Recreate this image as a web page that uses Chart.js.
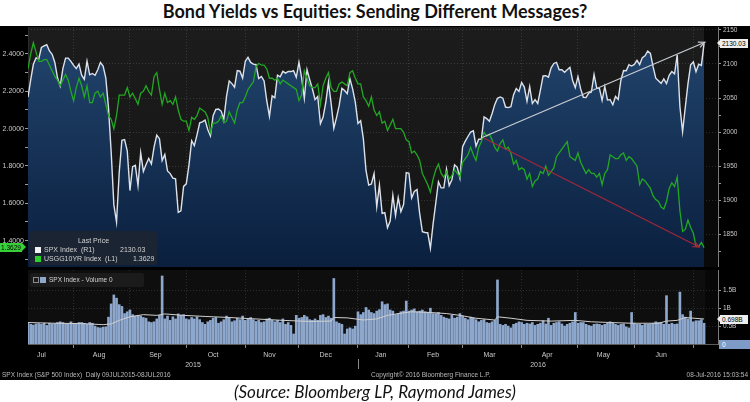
<!DOCTYPE html>
<html>
<head>
<meta charset="utf-8">
<title>Bond Yields vs Equities</title>
<script src="https://cdn.jsdelivr.net/npm/chart.js@4.4.0/dist/chart.umd.min.js"></script>
<style>
  html, body { margin: 0; padding: 0; background: #fff; }
  #wrap { position: relative; width: 750px; height: 402px; overflow: hidden; font-family: 'Liberation Sans', Arial, sans-serif; }
  #title { position: absolute; left: 0; top: 0; width: 750px; height: 26px; line-height: 27px; text-align: center; font: 700 18px Lato, sans-serif; color: #111; }
  #panel { position: absolute; left: 0; top: 26px; width: 750px; height: 354px; background: #000; }
  canvas { position: absolute; left: 0; }
  #mainChart { top: 22px; }
  #volChart { top: 268px; }
  .t { position: absolute; white-space: nowrap; font-size: 6.5px; line-height: 8px; color: #b8b8b8; }
  .lt { position: absolute; white-space: nowrap; font-size: 7px; line-height: 8px; color: #d2d2d2; }
  .sq { position: absolute; width: 6px; height: 6px; }
  #legend { position: absolute; left: 30px; top: 231px; width: 127px; height: 34px; background: rgba(30, 36, 48, 0.88); border-radius: 3px; }
  #volLegend { position: absolute; left: 30px; top: 273px; width: 114px; height: 14px; background: #1b1b1b; border-radius: 2px; }
  .tag { position: absolute; height: 9px; line-height: 9px; font-size: 6.5px; white-space: nowrap; }
  .tag.white { left: 720px; width: 26px; padding-left: 2px; background: #eeeeee; color: #000; }
  .tag.white::before { content: ''; position: absolute; left: -3px; top: 1px; border-right: 3px solid #eeeeee; border-top: 3.5px solid transparent; border-bottom: 3.5px solid transparent; }
  .tag.green { left: 0; width: 21px; padding-left: 1px; background: #38d038; color: #000; }
  .tag.green::after { content: ''; position: absolute; right: -4px; top: 0; border-left: 4px solid #38d038; border-top: 4.5px solid transparent; border-bottom: 4.5px solid transparent; }
  .tag.blue { left: 719px; width: 28px; padding-left: 3px; background: #7e9bc8; color: #fff; }
  #source { position: absolute; left: 0; top: 381px; width: 750px; height: 20px; line-height: 20px; text-align: center; font: italic 17px Lato, sans-serif; color: #111; }
</style>
</head>
<body>
<div id="wrap">
  <div id="title">Bond Yields vs Equities: Sending Different Messages?</div>
  <div id="panel"></div>
  <canvas id="mainChart" width="750" height="245"></canvas>
  <canvas id="volChart" width="750" height="112"></canvas>

  <div id="legend">
    <div class="lt" style="left:0;width:127px;text-align:center;top:6px">Last Price</div>
    <span class="sq" style="left:5px;top:16px;background:#f2f2f2"></span>
    <div class="lt" style="left:14px;top:15px">SPX Index&nbsp; (R1)</div>
    <div class="lt" id="lgSpx" style="left:90px;top:15px"></div>
    <span class="sq" style="left:5px;top:24.5px;background:#2ad12a"></span>
    <div class="lt" style="left:14px;top:23.5px">USGG10YR Index&nbsp; (L1)</div>
    <div class="lt" id="lgYield" style="left:103px;top:23.5px"></div>
  </div>

  <div id="volLegend">
    <span style="position:absolute;left:3px;top:4px;width:4px;height:4px;border:1px solid #8a8a8a"></span>
    <span class="sq" style="left:10px;top:4px;background:#8ea7cc"></span>
    <div class="lt" style="left:19px;top:3px;font-size:6.5px">SPX Index - Volume 0</div>
  </div>

  <div class="tag green" id="yieldTag"></div>
  <div class="tag white" id="spxTag"></div>
  <div class="tag white" id="avgTag"></div>
  <div class="tag blue" id="zeroTag">0</div>

  <div class="t" style="left:2px;top:371px">SPX Index (S&amp;P 500 Index)&nbsp; Daily 09JUL2015-08JUL2016</div>
  <div class="t" style="left:371px;top:371px">Copyright© 2016 Bloomberg Finance L.P.</div>
  <div class="t" style="right:2px;top:371px">08-Jul-2016 15:03:54</div>

  <div id="source">(Source: Bloomberg LP, Raymond James)</div>
</div>

<script>
// axis labels
const monthLabels = ['Jul', 'Aug', 'Sep', 'Oct', 'Nov', 'Dec', 'Jan', 'Feb', 'Mar', 'Apr', 'May', 'Jun'];
// trading-day index where each month starts (Jul 2015 begins before the data, last one is Jul 2016)
const monthStarts = [-5, 17, 38, 59, 81, 101, 123, 142, 162, 184, 205, 226, 248];
const yearLabels = ['2015', '2016'];
const yearStarts = [0, 123];
const yieldTicks = [1.4, 1.6, 1.8, 2.0, 2.2, 2.4];
const spxTicks = [1850, 1900, 1950, 2000, 2050, 2100, 2150];
const volTicks = [0.5, 1, 1.5];

// SPX Index, daily close 09JUL2015 - 08JUL2016
const spx = [
  2051.3, 2076.6, 2099.6, 2108.9, 2107.4, 2124.3, 2126.6, 2128.3, 2119.2, 2114.2, 2102.2, 2079.7, 2067.6, 2093.3, 2108.6, 2108.6, 2103.8,
  2098.0, 2093.3, 2099.8, 2083.6, 2077.6, 2104.2, 2084.1, 2086.1, 2083.4, 2091.5, 2102.4, 2096.9, 2079.6, 2035.7, 1970.9, 1893.2, 1867.6, 1940.5, 1987.7, 1988.9, 1972.2,
  1913.9, 1948.9, 1951.1, 1921.2, 1969.4, 1942.0, 1952.3, 1961.1, 1953.0, 1978.1, 1995.3, 1990.2, 1958.0, 1967.0, 1942.7, 1938.8, 1932.2, 1931.3, 1881.8, 1884.1, 1920.0,
  1923.8, 1951.4, 1987.1, 1979.9, 1995.8, 2013.4, 2014.9, 2017.5, 2003.7, 1994.2, 2023.9, 2033.1, 2033.7, 2030.8, 2018.9, 2052.5, 2075.2, 2071.2, 2065.9, 2090.4, 2089.4, 2079.4,
  2104.1, 2109.8, 2102.3, 2099.9, 2099.2, 2078.6, 2081.7, 2075.0, 2046.0, 2023.0, 2053.2, 2050.4, 2083.6, 2081.2, 2089.2, 2086.6, 2089.1, 2088.9, 2090.1, 2080.4,
  2102.6, 2079.5, 2049.6, 2091.7, 2077.1, 2063.6, 2047.6, 2052.2, 2012.4, 2021.9, 2043.4, 2073.1, 2041.9, 2005.6, 2021.2, 2039.0, 2064.3, 2061.0, 2056.5, 2078.4, 2063.4, 2043.9,
  2012.7, 2016.7, 1990.3, 1943.1, 1922.0, 1923.7, 1938.7, 1890.3, 1921.8, 1880.3, 1881.3, 1859.3, 1869.0, 1906.9, 1877.1, 1903.6, 1883.0, 1893.4, 1940.2,
  1939.4, 1903.0, 1912.5, 1915.5, 1880.1, 1853.4, 1852.2, 1851.9, 1829.1, 1864.8, 1895.6, 1926.8, 1917.8, 1917.8, 1945.5, 1921.3, 1929.8, 1951.7, 1948.1, 1932.2,
  1978.4, 1986.5, 1993.4, 2000.0, 2001.8, 1979.3, 1989.3, 1989.6, 2022.2, 2019.6, 2015.9, 2027.2, 2040.6, 2049.6, 2051.6, 2049.8, 2036.7, 2035.9, 2037.1, 2055.0, 2064.0, 2059.7,
  2072.8, 2066.1, 2045.2, 2066.7, 2041.9, 2047.6, 2042.0, 2061.7, 2082.4, 2082.8, 2080.7, 2094.3, 2100.8, 2102.4, 2091.5, 2091.6, 2087.8, 2091.7, 2095.2, 2075.8, 2065.3,
  2081.4, 2063.4, 2051.1, 2050.6, 2057.1, 2058.7, 2084.4, 2064.5, 2064.1, 2046.6, 2066.7, 2047.2, 2047.6, 2040.0, 2052.3, 2048.0, 2076.1, 2090.5, 2090.1, 2099.1, 2097.0,
  2099.3, 2105.3, 2099.1, 2109.4, 2112.1, 2119.1, 2115.5, 2096.1, 2079.1, 2075.3, 2071.5, 2078.0, 2071.2, 2083.3, 2088.9, 2085.5, 2113.3, 2037.4, 2000.5, 2036.1, 2070.8, 2098.9,
  2103.0, 2088.6, 2099.7, 2097.9, 2130.03
];

// USGG10YR Index, same days
const yield10 = [
  2.32, 2.40, 2.46, 2.41, 2.36, 2.36, 2.37, 2.37, 2.34, 2.31, 2.28, 2.26, 2.23, 2.26, 2.29, 2.26, 2.20,
  2.15, 2.22, 2.27, 2.23, 2.17, 2.23, 2.14, 2.14, 2.19, 2.20, 2.17, 2.19, 2.13, 2.07, 2.05, 2.00, 2.07, 2.18, 2.18, 2.18, 2.22,
  2.17, 2.19, 2.16, 2.13, 2.19, 2.20, 2.23, 2.20, 2.18, 2.28, 2.30, 2.21, 2.13, 2.19, 2.14, 2.15, 2.13, 2.17, 2.10, 2.05, 2.04,
  2.04, 1.99, 2.06, 2.05, 2.07, 2.11, 2.10, 2.09, 2.06, 1.98, 2.03, 2.03, 2.04, 2.07, 2.03, 2.04, 2.09, 2.06, 2.03, 2.10, 2.14, 2.14,
  2.17, 2.21, 2.23, 2.25, 2.33, 2.35, 2.34, 2.34, 2.32, 2.27, 2.27, 2.26, 2.27, 2.24, 2.26, 2.25, 2.24, 2.23, 2.22, 2.21,
  2.15, 2.18, 2.31, 2.27, 2.23, 2.22, 2.22, 2.24, 2.13, 2.23, 2.27, 2.30, 2.22, 2.20, 2.20, 2.24, 2.25, 2.24, 2.23, 2.30, 2.31, 2.27,
  2.24, 2.24, 2.17, 2.15, 2.12, 2.17, 2.10, 2.07, 2.09, 2.03, 2.04, 1.99, 2.02, 2.05, 2.00, 2.00, 2.00, 1.98, 1.94,
  1.93, 1.87, 1.88, 1.86, 1.83, 1.76, 1.73, 1.70, 1.66, 1.73, 1.78, 1.81, 1.76, 1.74, 1.77, 1.73, 1.75, 1.78, 1.76, 1.74,
  1.82, 1.84, 1.86, 1.90, 1.86, 1.83, 1.90, 1.93, 1.98, 1.96, 1.97, 1.94, 1.90, 1.88, 1.92, 1.94, 1.89, 1.90, 1.87, 1.81, 1.83, 1.78,
  1.79, 1.78, 1.73, 1.76, 1.69, 1.72, 1.73, 1.77, 1.76, 1.80, 1.75, 1.77, 1.79, 1.85, 1.87, 1.89, 1.91, 1.93, 1.85, 1.84, 1.83,
  1.87, 1.82, 1.79, 1.76, 1.78, 1.76, 1.76, 1.74, 1.76, 1.70, 1.76, 1.78, 1.86, 1.85, 1.84, 1.84, 1.86, 1.87, 1.83, 1.85, 1.84,
  1.82, 1.80, 1.70, 1.73, 1.72, 1.70, 1.68, 1.64, 1.62, 1.61, 1.58, 1.57, 1.61, 1.68, 1.71, 1.69, 1.74, 1.56, 1.45, 1.46, 1.51, 1.47,
  1.44, 1.37, 1.37, 1.39, 1.3629
];

// SPX volume, billions of shares
const volume = [
  0.60, 0.55, 0.53, 0.56, 0.57, 0.55, 0.58, 0.52, 0.58, 0.56, 0.57, 0.60, 0.62, 0.60, 0.57, 0.56, 0.62,
  0.58, 0.57, 0.60, 0.60, 0.58, 0.55, 0.60, 0.58, 0.50, 0.46, 0.45, 0.47, 0.48, 0.75, 1.12, 1.37, 1.28, 1.10, 1.05, 0.85, 0.90,
  0.95, 0.82, 0.78, 0.80, 0.78, 0.74, 0.72, 0.62, 0.60, 0.62, 0.70, 0.80, 1.90, 0.70, 0.78, 0.66, 0.76, 0.70, 0.84, 0.80, 0.82,
  0.70, 0.68, 0.74, 0.70, 0.76, 0.68, 0.60, 0.55, 0.62, 0.66, 0.72, 0.74, 0.58, 0.62, 0.68, 0.78, 0.74, 0.62, 0.65, 0.72, 0.68, 0.78,
  0.66, 0.70, 0.74, 0.68, 0.63, 0.66, 0.60, 0.62, 0.70, 0.72, 0.66, 0.62, 0.66, 0.60, 0.70, 0.55, 0.60, 0.52, 0.28, 0.80,
  0.72, 0.74, 0.80, 0.76, 0.68, 0.66, 0.70, 0.66, 0.80, 0.82, 0.74, 0.78, 0.72, 1.83, 0.62, 0.58, 0.55, 0.28, 0.42, 0.45, 0.42, 0.50,
  0.90, 0.82, 0.88, 1.02, 0.95, 0.88, 0.85, 0.92, 0.96, 1.18, 1.10, 1.12, 0.95, 0.92, 0.82, 0.85, 0.90, 0.92, 1.20,
  0.92, 0.95, 0.98, 0.90, 0.92, 0.95, 0.90, 0.88, 1.00, 0.85, 0.85, 0.88, 0.80, 0.75, 0.72, 0.70, 0.80, 0.72, 0.75, 0.85,
  0.78, 0.72, 0.68, 0.75, 0.72, 0.68, 0.62, 0.66, 0.68, 0.60, 0.58, 0.62, 0.66, 1.79, 0.55, 0.52, 0.55, 0.50, 0.45, 0.55, 0.58, 0.62,
  0.60, 0.55, 0.58, 0.56, 0.60, 0.52, 0.55, 0.58, 0.65, 0.56, 0.72, 0.52, 0.58, 0.60, 0.62, 0.56, 0.50, 0.55, 0.58, 0.62, 0.88,
  0.58, 0.60, 0.60, 0.55, 0.52, 0.50, 0.55, 0.56, 0.55, 0.52, 0.55, 0.58, 0.62, 0.58, 0.55, 0.52, 0.55, 0.56, 0.48, 0.45, 0.88,
  0.58, 0.55, 0.55, 0.52, 0.56, 0.55, 0.56, 0.58, 0.62, 0.60, 0.60, 0.55, 1.35, 0.55, 0.58, 0.55, 0.56, 1.45, 0.82, 0.75, 0.70, 0.92,
  0.62, 0.65, 0.65, 0.68, 0.58
];

// volume moving average
const volAvgDays = [0, 10, 20, 28, 31, 34, 38, 43, 48, 51, 58, 66, 75, 85, 95, 105, 113, 114, 119, 125, 130, 134, 139, 143, 150, 156, 161, 167, 174, 175, 180, 186, 195, 204, 210, 217, 225, 235, 238, 242, 245, 252];
const volAvg = [0.60, 0.58, 0.57, 0.54, 0.56, 0.66, 0.76, 0.82, 0.80, 0.84, 0.80, 0.77, 0.74, 0.70, 0.66, 0.63, 0.64, 0.74, 0.73, 0.67, 0.70, 0.80, 0.86, 0.90, 0.88, 0.85, 0.80, 0.72, 0.67, 0.76, 0.72, 0.66, 0.64, 0.66, 0.62, 0.60, 0.58, 0.58, 0.64, 0.66, 0.74, 0.698];

// hand-drawn trend arrows
const spxTrendDays = [169.3, 252.3];
const spxTrend = [1992, 2132];
const yieldTrendDays = [169.3, 250.2];
const yieldTrend = [1.954, 1.366];

const X_MAX = 257.2;
const FONT = 'Liberation Sans, Arial, sans-serif';
const GRID = 'rgba(200, 205, 215, 0.17)';

function near(list, v) {
  return list.some(m => Math.abs(m - v) < 1e-6);
}

// major ticks from the list plus minor ticks halfway between
function withMinors(list) {
  return function (scale) {
    const step = list[1] - list[0];
    const vals = list.slice();
    list.forEach(v => vals.push(v - step / 2));
    vals.push(list[list.length - 1] + step / 2);
    scale.ticks = vals
      .filter(v => v >= scale.min && v <= scale.max)
      .sort((a, b) => a - b)
      .map(v => ({ value: v }));
  };
}

// pin axis size so both panels line up
function fixBox(size) {
  return function (scale) {
    if (scale.isHorizontal()) scale.height = size;
    else scale.width = size;
    scale.paddingTop = scale.paddingBottom = scale.paddingLeft = scale.paddingRight = 0;
  };
}

function monthBoundaries(scale) {
  scale.ticks = monthStarts.filter(v => v > 0).map(v => ({ value: v }));
}

function navyFill(ctx) {
  const area = ctx.chart.chartArea;
  if (!area) return '#10284a';
  const g = ctx.chart.ctx.createLinearGradient(0, area.top, 0, area.bottom);
  g.addColorStop(0, '#23466f');
  g.addColorStop(1, '#0a1f3e');
  return g;
}

// plot background, darker after the last data day
const panelBg = {
  id: 'panelBg',
  beforeDraw(chart, args, opts) {
    const { ctx, chartArea: a } = chart;
    ctx.save();
    const g = ctx.createLinearGradient(0, a.top, 0, a.bottom);
    g.addColorStop(0, opts.top);
    g.addColorStop(1, opts.bottom);
    ctx.fillStyle = g;
    ctx.fillRect(a.left, a.top, a.width, a.height);
    const x = chart.scales.x.getPixelForValue(opts.endDay);
    ctx.fillStyle = opts.tail;
    ctx.fillRect(x, a.top, a.right - x, a.height);
    ctx.restore();
  }
};

const arrowHeads = {
  id: 'arrowHeads',
  afterDatasetsDraw(chart) {
    const ctx = chart.ctx;
    chart.data.datasets.forEach((ds, i) => {
      if (!ds.arrowHead) return;
      const pts = chart.getDatasetMeta(i).data;
      const a = pts[pts.length - 2], b = pts[pts.length - 1];
      const ang = Math.atan2(b.y - a.y, b.x - a.x);
      const len = 7, spread = 0.42;
      ctx.save();
      ctx.strokeStyle = ds.borderColor;
      ctx.lineWidth = 1.2;
      ctx.beginPath();
      ctx.moveTo(b.x - len * Math.cos(ang - spread), b.y - len * Math.sin(ang - spread));
      ctx.lineTo(b.x, b.y);
      ctx.lineTo(b.x - len * Math.cos(ang + spread), b.y - len * Math.sin(ang + spread));
      ctx.stroke();
      ctx.restore();
    });
  }
};

const yearDivider = {
  id: 'yearDivider',
  afterDraw(chart) {
    const { ctx, chartArea } = chart;
    const x = Math.round(chart.scales.x.getPixelForValue(yearStarts[1])) + 0.5;
    ctx.save();
    ctx.strokeStyle = '#8a8a8a';
    ctx.lineWidth = 1;
    ctx.beginPath();
    ctx.moveTo(x, chartArea.bottom + 15);
    ctx.lineTo(x, chartArea.bottom + 25);
    ctx.stroke();
    ctx.restore();
  }
};

const lastDay = spx.length - 1;

const mainChart = new Chart(document.getElementById('mainChart'), {
  type: 'line',
  data: {
    datasets: [{
      label: 'SPX trend',
      data: spxTrendDays.map((d, i) => ({ x: d, y: spxTrend[i] })),
      yAxisID: 'ySpx',
      borderColor: '#c9ccd2',
      borderWidth: 1.2,
      pointRadius: 0,
      arrowHead: true,
      order: 1
    }, {
      label: 'Yield trend',
      data: yieldTrendDays.map((d, i) => ({ x: d, y: yieldTrend[i] })),
      yAxisID: 'yYield',
      borderColor: '#a3263a',
      borderWidth: 1.2,
      pointRadius: 0,
      arrowHead: true,
      order: 1
    }, {
      label: 'USGG10YR Index',
      data: yield10.map((v, i) => ({ x: i, y: v })),
      yAxisID: 'yYield',
      borderColor: '#22a822',
      borderWidth: 1.3,
      pointRadius: 0,
      order: 2
    }, {
      label: 'SPX Index',
      data: spx.map((v, i) => ({ x: i, y: v })),
      yAxisID: 'ySpx',
      borderColor: '#dde2ea',
      borderWidth: 1.4,
      pointRadius: 0,
      fill: 'start',
      backgroundColor: navyFill,
      order: 3
    }]
  },
  options: {
    responsive: false,
    animation: false,
    events: [],
    layout: { padding: { top: 5, bottom: 0, left: 0, right: 0 } },
    plugins: {
      legend: { display: false },
      tooltip: { enabled: false },
      panelBg: { top: '#1c1c1c', bottom: '#141414', tail: '#090909', endDay: lastDay }
    },
    scales: {
      x: {
        type: 'linear', min: 0, max: X_MAX, z: 1, offset: false,
        afterBuildTicks: monthBoundaries,
        afterFit: fixBox(0),
        ticks: { display: false },
        grid: { color: GRID, drawTicks: false },
        border: { display: true, color: '#8d96a3', dash: [1, 2] }
      },
      yYield: {
        type: 'linear', position: 'left', min: 1.2589, max: 2.5446,
        afterBuildTicks: withMinors(yieldTicks),
        afterFit: fixBox(28),
        ticks: {
          callback: v => near(yieldTicks, v) ? v.toFixed(4) : '',
          color: '#c8c8c8', font: { family: FONT, size: 7 }, padding: 1, autoSkip: false
        },
        grid: { drawOnChartArea: false, tickLength: 3, tickColor: '#9a9a9a' },
        border: { display: true, color: '#2b2b2b' }
      },
      ySpx: {
        type: 'linear', position: 'right', min: 1801.5, max: 2154.4, z: 1,
        afterBuildTicks: withMinors(spxTicks),
        afterFit: fixBox(32),
        ticks: {
          callback: v => near(spxTicks, v) ? String(v) : '',
          color: '#c8c8c8', font: { family: FONT, size: 6.5 }, padding: 2, autoSkip: false
        },
        grid: {
          color: c => (c.tick && near(spxTicks, c.tick.value)) ? GRID : 'rgba(0,0,0,0)',
          tickLength: 3, tickColor: '#9a9a9a', tickBorderDash: []
        },
        border: { display: true, color: '#7a7a7a', dash: [1, 2] }
      }
    }
  },
  plugins: [panelBg, arrowHeads]
});

const volChart = new Chart(document.getElementById('volChart'), {
  type: 'bar',
  data: {
    datasets: [{
      type: 'line',
      label: 'Volume average',
      data: volAvgDays.map((d, i) => ({ x: d, y: volAvg[i] })),
      xAxisID: 'x',
      yAxisID: 'yVol',
      borderColor: '#cfcfcf',
      borderWidth: 1,
      pointRadius: 0,
      order: 1
    }, {
      type: 'bar',
      label: 'SPX Index - Volume',
      data: volume.map((v, i) => ({ x: i, y: v })),
      xAxisID: 'x',
      yAxisID: 'yVol',
      backgroundColor: '#8ea7cc',
      barThickness: 2,
      order: 2
    }]
  },
  options: {
    responsive: false,
    animation: false,
    events: [],
    layout: { padding: { top: 2, bottom: 9, left: 28, right: 0 } },
    plugins: {
      legend: { display: false },
      tooltip: { enabled: false },
      panelBg: { top: '#0e0e0e', bottom: '#0e0e0e', tail: '#070707', endDay: lastDay + 0.5 }
    },
    scales: {
      x: {
        type: 'linear', position: 'bottom', min: 0, max: X_MAX, weight: 0, offset: false,
        afterBuildTicks: monthBoundaries,
        afterFit: fixBox(4),
        ticks: { display: false },
        grid: { color: GRID, tickLength: 4, tickColor: '#8a8a8a', tickBorderDash: [], offset: false },
        border: { display: true, color: '#5c5c5c', dash: [1, 2] }
      },
      xMonths: {
        type: 'linear', position: 'bottom', min: 0, max: X_MAX, weight: 1, offset: false,
        afterBuildTicks: s => {
          s.ticks = monthLabels.map((m, i) => ({ value: (monthStarts[i] + monthStarts[i + 1]) / 2 - 1 }));
        },
        afterFit: fixBox(13),
        ticks: {
          callback: (v, i) => monthLabels[i],
          color: '#c8c8c8', font: { family: FONT, size: 7 }, padding: 3, autoSkip: false, maxRotation: 0
        },
        grid: { display: false, drawTicks: false, offset: false },
        border: { display: false }
      },
      xYears: {
        type: 'linear', position: 'bottom', min: 0, max: X_MAX, weight: 2, offset: false,
        afterBuildTicks: s => {
          s.ticks = yearLabels.map((y, i) => ({ value: (yearStarts[i] + (yearStarts[i + 1] ?? X_MAX)) / 2 }));
        },
        afterFit: fixBox(10),
        ticks: {
          callback: (v, i) => yearLabels[i],
          color: '#c8c8c8', font: { family: FONT, size: 7 }, padding: 0, autoSkip: false, maxRotation: 0
        },
        grid: { display: false, drawTicks: false, offset: false },
        border: { display: false }
      },
      yVol: {
        type: 'linear', position: 'right', min: 0, max: 2.067,
        afterBuildTicks: s => { s.ticks = volTicks.map(v => ({ value: v })); },
        afterFit: fixBox(32),
        ticks: {
          callback: v => v + 'B',
          color: '#c8c8c8', font: { family: FONT, size: 6.5 }, padding: 2, autoSkip: false
        },
        grid: { color: GRID, tickLength: 3, tickColor: '#9a9a9a', tickBorderDash: [] },
        border: { display: true, color: '#7a7a7a', dash: [1, 2] }
      }
    }
  },
  plugins: [panelBg, yearDivider]
});

// last-value tags and legend values, placed through the scales
const mainTop = document.getElementById('mainChart').offsetTop;
const volTop = document.getElementById('volChart').offsetTop;
const lastSpx = spx[lastDay];
const lastYield = yield10[lastDay];
const lastAvg = volAvg[volAvg.length - 1];

document.getElementById('lgSpx').textContent = lastSpx.toFixed(2);
document.getElementById('lgYield').textContent = lastYield.toFixed(4);

const spxTag = document.getElementById('spxTag');
spxTag.textContent = lastSpx.toFixed(2);
spxTag.style.top = (mainTop + mainChart.scales.ySpx.getPixelForValue(lastSpx) - 4.5) + 'px';

const yieldTag = document.getElementById('yieldTag');
yieldTag.textContent = lastYield.toFixed(4);
yieldTag.style.top = (mainTop + mainChart.scales.yYield.getPixelForValue(lastYield) - 4.5) + 'px';

const avgTag = document.getElementById('avgTag');
avgTag.textContent = lastAvg + 'B';
avgTag.style.top = (volTop + volChart.scales.yVol.getPixelForValue(lastAvg) - 4.5) + 'px';

document.getElementById('zeroTag').style.top = (volTop + volChart.scales.yVol.getPixelForValue(0) - 4.5) + 'px';
</script>
</body>
</html>
